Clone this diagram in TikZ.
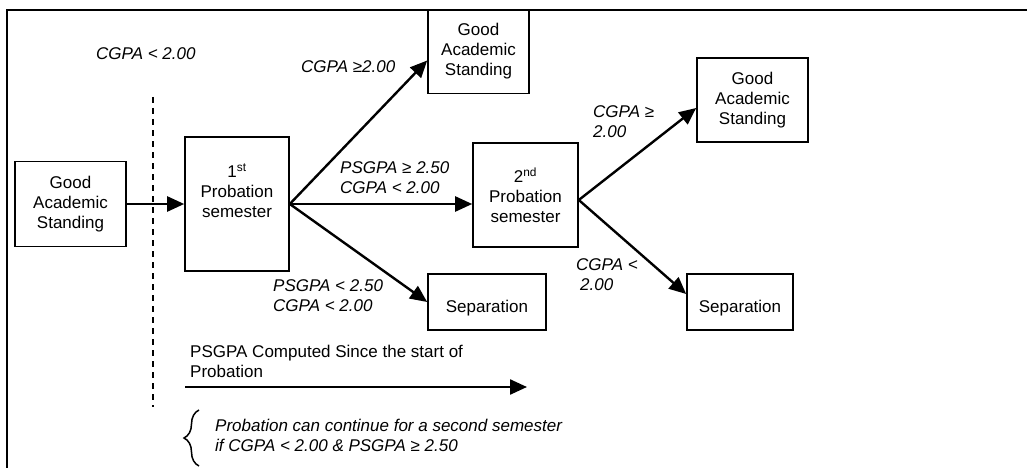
\documentclass[tikz,border=0pt]{standalone}
\usepackage{fontspec}
\setmainfont{Liberation Sans}
\usetikzlibrary{arrows.meta,decorations.pathreplacing}

\begin{document}
\begin{tikzpicture}[x=1pt, y=-1pt,
		every node/.style={font=\fontsize{17}{20}\selectfont},
		stdbox/.style={draw, line width=1.6pt, align=center, inner sep=0pt},
		cond/.style={font=\fontsize{17}{20}\selectfont\itshape, align=left, anchor=west, inner sep=0pt},
		arr/.style={line width=2.4pt, -{Triangle[length=17pt,width=15pt]}}]
			\useasboundingbox (0,0) rectangle (1027,468);
			\draw[line width=2.2pt] (7,468) -- (7,10) -- (1027,10);

			\node[stdbox, minimum width=111pt, minimum height=85pt] (gas) at (70.5, 204) {Good\\Academic\\Standing};
			\node[stdbox, minimum width=104pt, minimum height=134pt,
				label={[yshift=13pt, align=center]center:1\textsuperscript{st}\\Probation\\semester}] (prob1) at (237, 204) {};
			\node[stdbox, minimum width=101pt, minimum height=84pt] (gasup) at (478.5, 51.5) {Good\\Academic\\Standing};
			\node[stdbox, minimum width=105pt, minimum height=104pt] (prob2) at (525.5, 195) {2\textsuperscript{nd}\\Probation\\semester};
			\node[stdbox, minimum width=111pt, minimum height=84pt] (gasright) at (752.5, 100) {Good\\Academic\\Standing};
			\node[stdbox, minimum width=118pt, minimum height=56pt, text height=20pt, text depth=0pt] (sep1) at (487, 302) {Separation};
			\node[stdbox, minimum width=106pt, minimum height=56pt, text height=20pt, text depth=0pt] (sep2) at (740, 302) {Separation};

			% conditions
			\node[cond] (c0) at (96, 54) {CGPA < 2.00};
			\node[cond] (c1) at (301, 67) {CGPA ≥2.00};
			\node[cond] (c2) at (340, 178) {PSGPA ≥ 2.50\\CGPA < 2.00};
			\node[cond] (c3) at (593, 122) {CGPA ≥\\2.00};
			\node[cond] (c4) at (273, 296) {PSGPA < 2.50\\CGPA < 2.00};
			\node[cond] (c5) at (576, 275) {CGPA <\\\hspace{4pt}2.00};
			\node[cond, font=\fontsize{17}{20}\selectfont] (note) at (190, 361) {PSGPA Computed Since the start of\\Probation};
			\node[cond] (rule) at (215, 435) {Probation can continue for a second semester\\if CGPA < 2.00 \& PSGPA ≥ 2.50};

			\coordinate (dtop) at (153, 97);
			\coordinate (dbot) at (153, 407);
			\coordinate (pstart) at (185, 387);
			\coordinate (pend) at (527, 387);
			\coordinate (bra1) at (199, 466);
			\coordinate (bra2) at (199, 410);

			\draw[line width=1.6pt, dash pattern=on 6pt off 5pt] (dtop) -- (dbot);

			\draw[arr] (gas) -- (prob1);
			\draw[arr] (prob1.east) -- ([yshift=-9pt]gasup.west);
			\draw[arr] (prob1.east) -- (prob1.east -| prob2.west);
			\draw[arr] (prob1.east) -- (sep1.west);
			\draw[arr] ([yshift=-5pt]prob2.east) -- ([yshift=-8pt]gasright.west);
			\draw[arr] ([yshift=-5pt]prob2.east) -- ([yshift=8pt]sep2.west);
			\draw[arr] (pstart) -- (pend);

			\draw[line width=1.5pt, decorate, decoration={brace, amplitude=15pt}] (bra1) -- (bra2);

		\end{tikzpicture}
\end{document}
